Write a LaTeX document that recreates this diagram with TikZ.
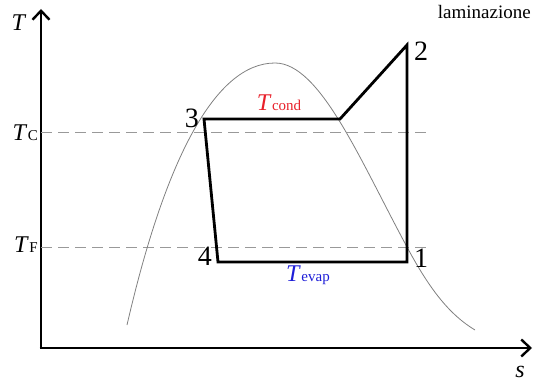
\documentclass[tikz,border=0pt]{standalone}
\usepackage{fontspec}
\setmainfont{Liberation Serif}
\usepackage{xcolor}
\usepackage{tikz}
\usetikzlibrary{arrows.meta,positioning,calc}
\definecolor{domec}{HTML}{808080}
\definecolor{dashc}{HTML}{999999}
\definecolor{condc}{HTML}{E8202A}
\definecolor{evapc}{HTML}{1E1ED8}
\newcommand{\Tsub}[2]{\textit{T}\kern0.5pt{\fontsize{#2}{#2}\selectfont #1}}
\tikzset{
  axis/.style={line width=2.6pt,-{Straight Barb[length=9pt,width=17pt,line width=2.4pt]}},
  isoline/.style={draw=dashc,line width=1pt,dash pattern=on 11pt off 6pt},
  cyc/.style={line width=2.8pt,line join=miter},
  dome/.style={draw=domec,line width=0.8pt},
  ptlab/.style={inner sep=0pt,font=\fontsize{28}{28}\selectfont},
  tlab/.style={inner sep=0pt,font=\fontsize{24}{24}\selectfont},
  note/.style={inner sep=0pt,anchor=base east,font=\fontsize{19}{19}\selectfont},
}
\begin{document}
\begin{tikzpicture}[x=1pt,y=-1pt]
  \useasboundingbox (0,0) rectangle (533,385);
  % axes
  \coordinate (o) at (41,348);
  \coordinate (ytip) at (41,9);
  \coordinate (xtip) at (532,348);
  \draw[axis](o)--(ytip);
  \draw[axis]($(o)+(-1.3,0)$)--(xtip);
  \node[tlab,anchor=center](ylab) at (19,23){\textit{T}};
  \node[tlab,anchor=center](xlab) at (520,372){\textit{s}};
  % isotherms
  \coordinate (tc) at (41,133);
  \coordinate (tf) at (41,247);
  \draw[isoline](tc)--++(385,0);
  \draw[isoline](tf)--++(385,0);
  \node[tlab,anchor=east](tclab) at (38,133){\Tsub{C}{15}};
  \node[tlab,anchor=east](tflab) at (38,245){\Tsub{F}{15}};
  % saturation dome
  \coordinate (dl) at (127,325);
  \coordinate (dtop) at (275,63);
  \coordinate (dm) at (407,247);
  \coordinate (dr) at (475,330);
  \draw[dome](dl) .. controls (165,160) and (215,63) .. (dtop)
    .. controls (320,63) and (360,160) .. (dm)
    .. controls (430,290) and (450,315) .. (dr);
  % cycle
  \coordinate (p3) at (204,119);
  \coordinate (p3b) at (340,119);
  \coordinate (p2) at (407,45);
  \coordinate (p1) at (407,262);
  \coordinate (p4) at (218,262);
  \draw[cyc](p3)--(p3b)--(p2)--(p1)--(p4)--cycle;
  \node[ptlab,left=5pt of p3,yshift=1pt](l3){3};
  \node[ptlab,right=7pt of p2,yshift=-6pt](l2){2};
  \node[ptlab,right=7pt of p1,yshift=4pt](l1){1};
  \node[ptlab,left=6pt of p4,yshift=6pt](l4){4};
  \node[inner sep=0pt,text=condc](tcond) at (279,103){\fontsize{24}{24}\selectfont\Tsub{cond}{15}};
  \node[inner sep=0pt,text=evapc](tevap) at (308,275){\fontsize{24}{24}\selectfont\Tsub{evap}{15}};
  \node[note](lam) at (531,19){laminazione};
\end{tikzpicture}
\end{document}
